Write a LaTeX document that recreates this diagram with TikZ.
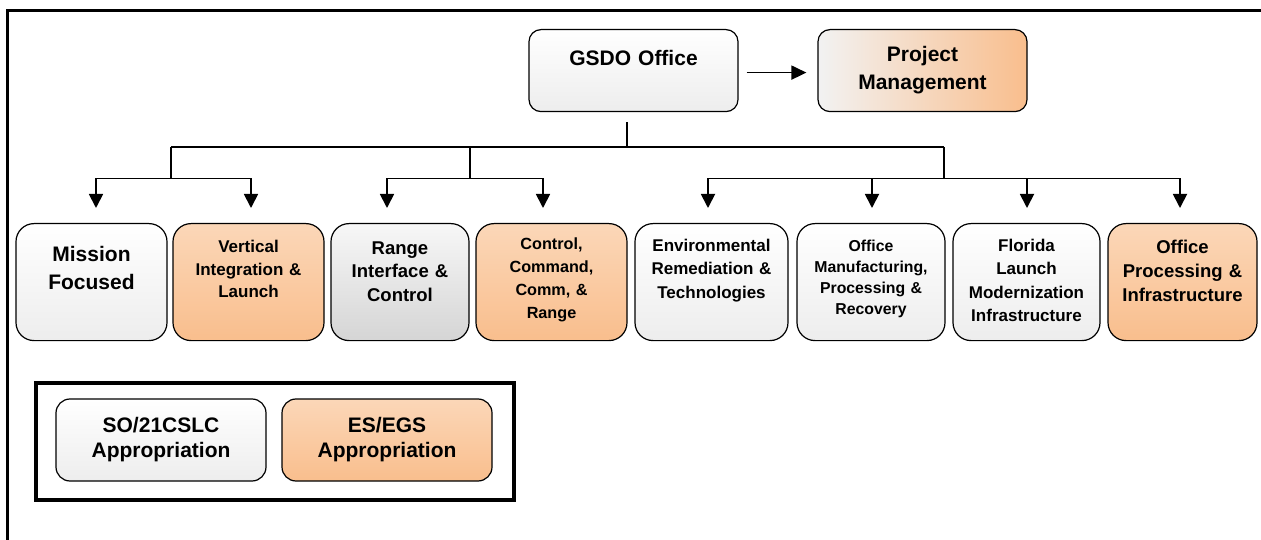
\documentclass[tikz,border=0pt]{standalone}
\usepackage{fontspec}
\setmainfont{Liberation Sans}
\usepackage{xcolor}
\usepackage{tikz}
\usetikzlibrary{arrows.meta}
\definecolor{paletop}{HTML}{FFFFFF}
\definecolor{palebot}{HTML}{EDEDED}
\definecolor{greytop}{HTML}{F7F7F7}
\definecolor{greybot}{HTML}{D5D5D5}
\definecolor{orngtop}{HTML}{FBD7B8}
\definecolor{orngbot}{HTML}{F9BE8D}
\definecolor{pmleft}{HTML}{F2F2F2}
\tikzset{
  outerframe/.style={draw=black, line width=3pt},
  keyframe/.style={draw=black, line width=4pt},
  orgbox/.style={draw=black, line width=1.2pt, rounded corners=12pt, align=center, inner xsep=2pt, inner ysep=0pt},
  unit/.style={orgbox, rounded corners=18pt, anchor=north},
  paleunit/.style={top color=paletop, bottom color=palebot},
  greyunit/.style={top color=greytop, bottom color=greybot},
  orngunit/.style={top color=orngtop, bottom color=orngbot},
  fsz/.style 2 args={font=\bfseries\fontsize{#1}{#2}\selectfont},
  link/.style={draw=black, line width=1.8pt},
  stub/.style={draw=black, line width=1.3pt},
  drop/.style={link, -{Triangle[length=14pt,width=14pt]}, shorten >=15pt}
}
\begin{document}
\begin{tikzpicture}[x=1pt, y=-1pt]
  \useasboundingbox (0,0) rectangle (1261,540);
  \draw[outerframe] (7.5,11) rectangle (1290,570); % runs off the page

  \node[orgbox, paleunit, anchor=north, fsz={21}{28}, text width=205pt, text height=35.5pt, text depth=46.5pt] (gsdo) at (633.5,29) {GSDO Office};
  \node[orgbox, left color=pmleft, right color=orngbot, anchor=north, fsz={21}{28}, text width=205pt, text height=31.5pt, text depth=50.5pt] (pm) at (922.5,29) {Project\\Management};
  \draw[link, -{Triangle[length=15pt,width=14pt]}, shorten <=8pt, shorten >=11pt] ([yshift=-2pt]gsdo.east) -- ([yshift=-2pt]pm.west);

  \node[unit, paleunit, fsz={21}{28}, text width=147pt, text height=37.5pt, text depth=79.5pt] (mf) at (91.5,223) {Mission\\Focused};
  \node[unit, orngunit, fsz={17}{22.5}, text width=147pt, text height=29pt, text depth=88pt] (via) at (248.5,223) {Vertical\\Integration \&\\Launch};
  \node[unit, greyunit, fsz={18.5}{23.5}, text width=134pt, text height=30.6pt, text depth=86.4pt] (ric) at (400,223) {Range\\Interface \&\\Control};
  \node[unit, orngunit, fsz={16.2}{23}, text width=147pt, text height=25.8pt, text depth=91.2pt] (ccr) at (551.5,223) {Control,\\Command,\\Comm, \&\\Range};
  \node[unit, paleunit, fsz={17}{23.3}, text width=149pt, text height=28pt, text depth=89pt] (ert) at (711.5,223) {Environmental\\Remediation \&\\Technologies};
  \node[unit, paleunit, fsz={15.8}{21}, text width=144pt, text height=27.7pt, text depth=89.3pt] (omp) at (871,223) {Office\\Manufacturing,\\Processing \&\\Recovery};
  \node[unit, paleunit, fsz={17}{23.3}, text width=143pt, text height=28pt, text depth=89pt] (flm) at (1026.5,223) {Florida\\Launch\\Modernization\\Infrastructure};
  \node[unit, orngunit, fsz={18.5}{24}, text width=145pt, text height=30.3pt, text depth=86.7pt] (opi) at (1182.5,223) {Office\\Processing \&\\Infrastructure};

  \coordinate (hub) at (627,147);
  \coordinate (b1) at (171,147);
  \coordinate (b2) at (470,147);
  \coordinate (b3) at (944,147);
  \coordinate (r1) at (96,178.5);
  \coordinate (r2) at (251,178.5);
  \coordinate (r3) at (387,178.5);
  \coordinate (r4) at (543,178.5);
  \coordinate (r5) at (708,178.5);
  \coordinate (r6) at (872,178.5);
  \coordinate (r7) at (1027,178.5);
  \coordinate (r8) at (1180,178.5);

  \draw[stub, shorten <=10pt] (gsdo.south -| hub) -- (hub);
  \draw[link] (b1) -- (b3);
  \draw[stub] (b1) -- (b1 |- r1);
  \draw[link] (b2) -- (b2 |- r3);
  \draw[stub] (b3) -- (b3 |- r5);
  \draw[link] (r1) -- (r2);
  \draw[link] (r3) -- (r4);
  \draw[link] (r5) -- (r8);
  \foreach \r/\u in {r1/mf, r2/via, r3/ric, r4/ccr, r5/ert, r6/omp, r7/flm, r8/opi}
    \draw[drop] (\r) -- (\r |- \u.north);

  % legend
  \draw[keyframe] (36,383) rectangle (514,500);
  \node[orgbox, paleunit, rounded corners=14pt, fsz={21}{25}, minimum width=210pt, minimum height=82pt] (so) at (161,440) {SO/21CSLC\\Appropriation};
  \node[orgbox, orngunit, rounded corners=14pt, fsz={21}{25}, minimum width=210pt, minimum height=82pt] (es) at (387,440) {ES/EGS\\Appropriation};
\end{tikzpicture}
\end{document}
